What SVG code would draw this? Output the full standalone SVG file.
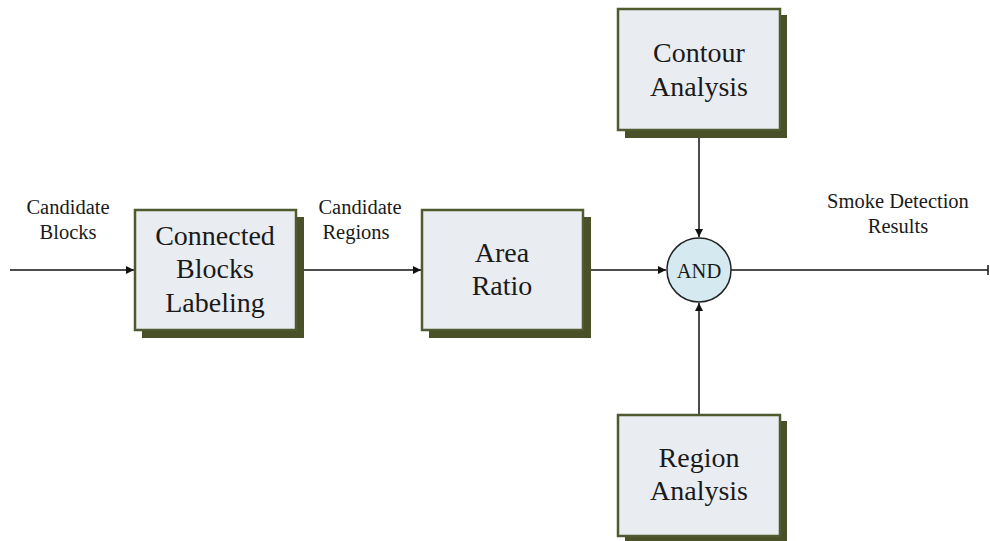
<svg xmlns="http://www.w3.org/2000/svg" width="990" height="541" viewBox="0 0 990 541">
<defs>
<style>
.shadow{fill:#4a5128;}
.box{fill:#e9edf2;stroke:#4f5a2e;stroke-width:2.5;}
.bt{font-family:"Liberation Serif","Times New Roman",serif;font-size:28px;fill:#1a1a1a;text-anchor:middle;}
.lt{font-family:"Liberation Serif","Times New Roman",serif;font-size:20.5px;fill:#1a1a1a;text-anchor:middle;}
.line{stroke:#111;stroke-width:1.5;fill:none;}
</style>
<marker id="arr" viewBox="0 0 10 10" refX="10" refY="5" markerWidth="8" markerHeight="8" markerUnits="userSpaceOnUse" orient="auto">
<path d="M0,0 L10,5 L0,10 z" fill="#111"/>
</marker>
</defs>
<rect width="990" height="541" fill="#fff"/>
<g id="connectors">
<line class="line" x1="10" y1="270" x2="134" y2="270" marker-end="url(#arr)"/>
<line class="line" x1="296" y1="270" x2="421" y2="270" marker-end="url(#arr)"/>
<line class="line" x1="583" y1="270" x2="666" y2="270" marker-end="url(#arr)"/>
<line class="line" x1="699" y1="131" x2="699" y2="237" marker-end="url(#arr)"/>
<line class="line" x1="699" y1="414" x2="699" y2="303" marker-end="url(#arr)"/>
<line class="line" x1="731" y1="270" x2="988" y2="270"/>
<line class="line" x1="988" y1="265" x2="988" y2="275"/>
</g>
<g id="label-candidate-blocks">
<text class="lt" x="68" y="214">Candidate</text>
<text class="lt" x="68" y="239">Blocks</text>
</g>
<g id="label-candidate-regions">
<text class="lt" x="360" y="214">Candidate</text>
<text class="lt" x="356" y="239">Regions</text>
</g>
<g id="label-results">
<text class="lt" x="898" y="208">Smoke Detection</text>
<text class="lt" x="898" y="233">Results</text>
</g>
<g id="node-connected">
<rect class="shadow" x="142" y="217" width="162" height="121"/>
<rect class="box" x="135" y="210" width="161" height="120"/>
<text class="bt" x="215" y="245">Connected</text>
<text class="bt" x="215" y="278">Blocks</text>
<text class="bt" x="215" y="312">Labeling</text>
</g>
<g id="node-area">
<rect class="shadow" x="429" y="217" width="162" height="121"/>
<rect class="box" x="422" y="210" width="161" height="120"/>
<text class="bt" x="502" y="262">Area</text>
<text class="bt" x="502" y="295">Ratio</text>
</g>
<g id="node-contour">
<rect class="shadow" x="625" y="15" width="162" height="123"/>
<rect class="box" x="618" y="9" width="162" height="121"/>
<text class="bt" x="699" y="62">Contour</text>
<text class="bt" x="699" y="96">Analysis</text>
</g>
<g id="node-region">
<rect class="shadow" x="625" y="421" width="162" height="120"/>
<rect class="box" x="618" y="415" width="162" height="121"/>
<text class="bt" x="699" y="467">Region</text>
<text class="bt" x="699" y="500">Analysis</text>
</g>
<g id="node-and">
<circle cx="699" cy="270" r="32" fill="#d4eaf0" stroke="#222" stroke-width="1.5"/>
<text class="lt" x="699" y="278">AND</text>
</g>
</svg>
